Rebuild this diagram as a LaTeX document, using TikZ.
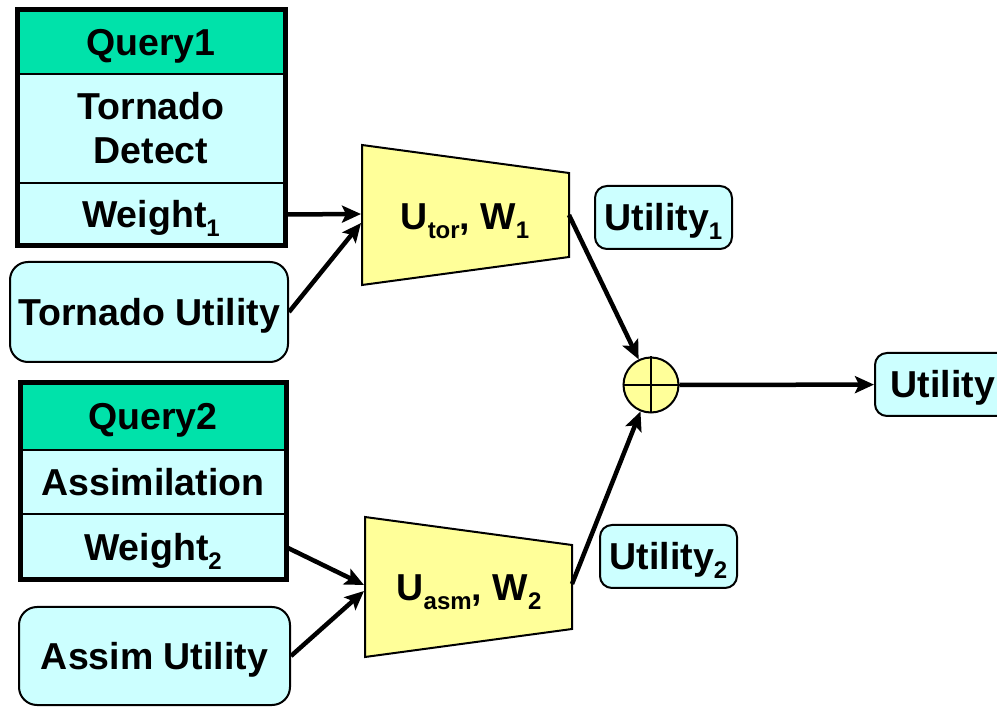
\documentclass[tikz,border=0pt]{standalone}
\usepackage{fontspec}
\setmainfont{Liberation Sans}
\usetikzlibrary{positioning,arrows.meta}
\definecolor{qgreen}{RGB}{0,226,170}
\definecolor{lcyan}{RGB}{204,255,255}
\definecolor{lyellow}{RGB}{255,255,153}
\newcommand{\lsub}[1]{\raisebox{-9pt}{\fontsize{24}{24}\selectfont #1}}

\begin{document}
\begin{tikzpicture}[x=1pt, y=-1pt,
		font=\fontsize{37.5}{44}\selectfont\bfseries,
		cellbox/.style={draw, line width=1.5pt, fill=lcyan, inner sep=0pt, outer sep=0pt, align=center},
		cell/.style={cellbox, text height=27pt, text depth=0pt},
		head/.style={cell, fill=qgreen},
		lbl/.style={inner sep=0pt, text height=27pt, text depth=0pt},
		ubox/.style={lbl, draw, line width=2pt, fill=lcyan, rounded corners=#1},
		trap/.style={draw, line width=2pt, fill=lyellow},
		arr/.style={-{Stealth[length=19pt, width=17pt, inset=4pt]}, line width=4.5pt}]
	\useasboundingbox (0,0) rectangle (997,708);

	% query tables
	\node[head, minimum width=268pt, minimum height=64pt] (q1) at (151,42) {Query1};
	\node[cellbox, minimum width=268pt, minimum height=109pt, below=0pt of q1] (q1d) {Tornado\\Detect};
	\node[cell, minimum width=268pt, minimum height=63pt, below=0pt of q1d] (q1w) {Weight\lsub{1}};
	\draw[line width=5pt] (q1.north west) rectangle (q1w.south east);

	\node[head, minimum width=266pt, minimum height=67pt] (q2) at (153,416.5) {Query2};
	\node[cell, minimum width=266pt, minimum height=64pt, below=0pt of q2] (q2a) {Assimilation};
	\node[cell, minimum width=266pt, minimum height=66pt, below=0pt of q2a] (q2w) {Weight\lsub{2}};
	\draw[line width=5pt] (q2.north west) rectangle (q2w.south east);

	% utility inputs and outputs
	\node[ubox=18pt, minimum width=278pt, minimum height=100pt] (tu) at (149,312) {Tornado Utility};
	\node[ubox=18pt, minimum width=271pt, minimum height=98pt] (au) at (154.5,656) {Assim Utility};
	\node[ubox=12pt, minimum width=137pt, minimum height=63pt] (ut1) at (663.5,217.5) {Utility\lsub{1}};
	\node[ubox=12pt, minimum width=137pt, minimum height=63pt] (ut2) at (668.5,556.5) {Utility\lsub{2}};
	\node[ubox=12pt, minimum width=136pt, minimum height=63pt] (util) at (943,384.5) {Utility};

	% trapezoids
	\draw[trap] (362,145) -- (569,173) -- (569,257) -- (362,285) -- cycle;
	\node[lbl] (u1) at (465,216) {U\lsub{tor}, W\lsub{1}};
	\coordinate (u1a) at (361,214);
	\coordinate (u1b) at (361,223);
	\coordinate (u1o) at (569,215);

	\draw[trap] (365,517) -- (572,545) -- (572,629) -- (365,657) -- cycle;
	\node[lbl] (u2) at (469,587) {U\lsub{asm}, W\lsub{2}};
	\coordinate (u2a) at (364,585);
	\coordinate (u2b) at (364,591);
	\coordinate (u2o) at (572,584);

	% sum
	\node[circle, draw, line width=2pt, fill=lyellow, minimum size=55pt, inner sep=0pt] (sum) at (651,385) {};
	\draw[line width=2pt] (sum.north) -- (sum.south) (sum.west) -- (sum.east);

	\path[arr]
		(q1w.east) edge (u1a)
		(tu.east) edge (u1b)
		(q2w.east) edge (u2a)
		(au.east) edge (u2b)
		(u1o) edge (sum)
		(u2o) edge (sum)
		(sum) edge (util);
\end{tikzpicture}
\end{document}
